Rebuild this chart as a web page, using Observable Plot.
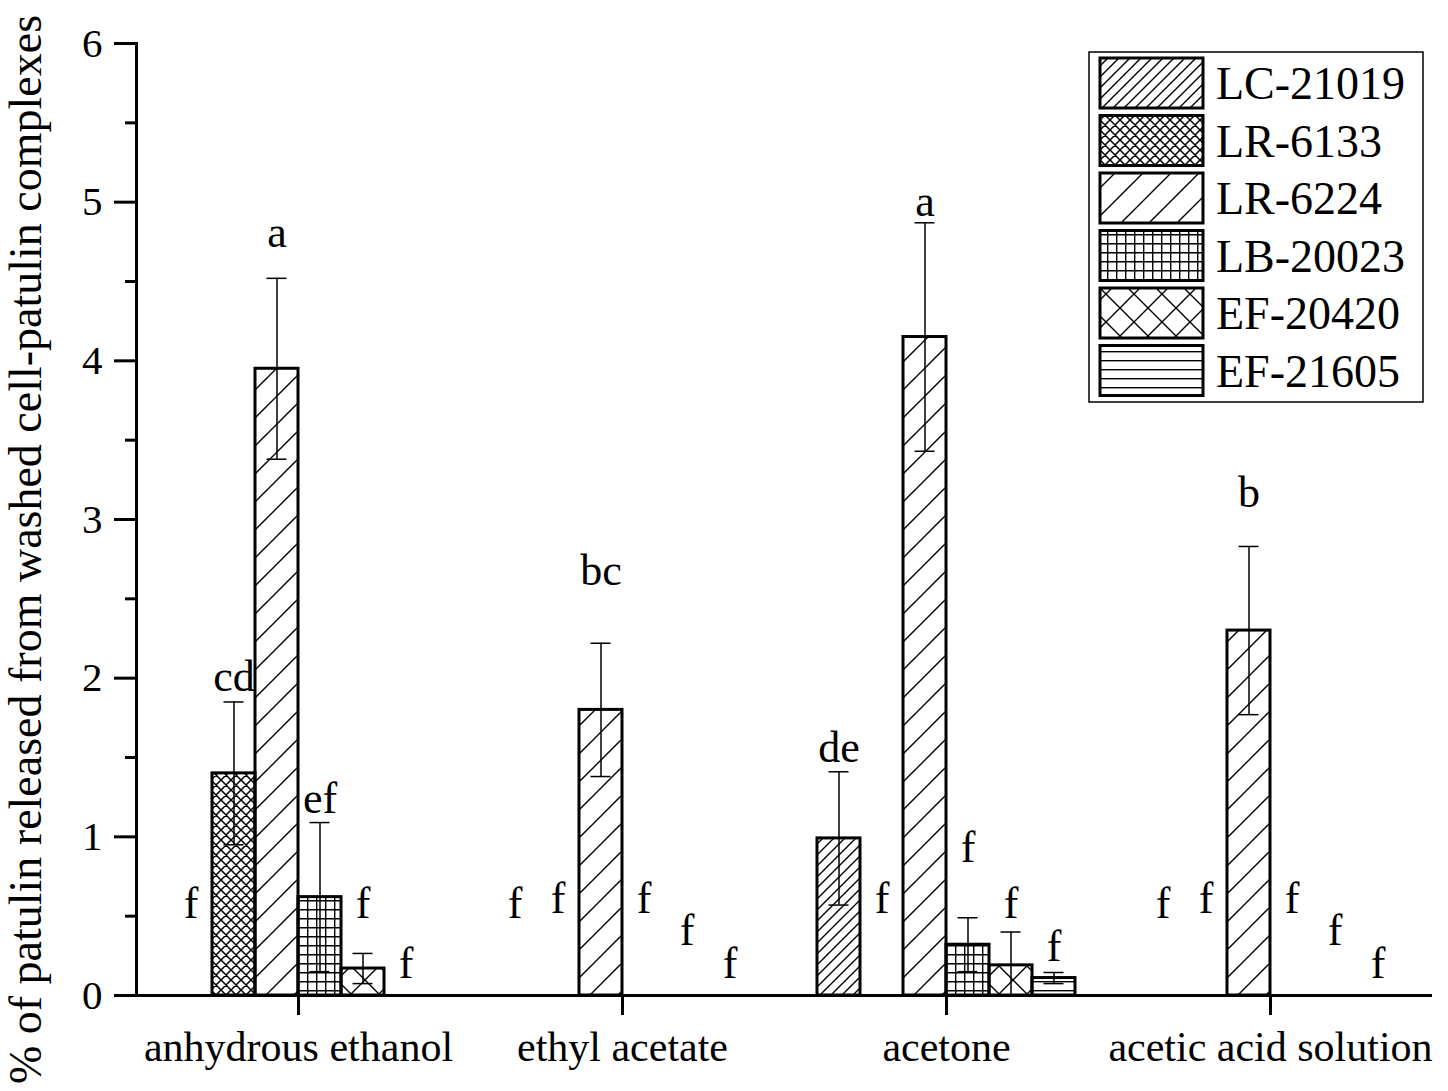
<!DOCTYPE html>
<html>
<head>
<meta charset="utf-8">
<script src="https://cdn.jsdelivr.net/npm/d3@7"></script>
<script src="https://cdn.jsdelivr.net/npm/@observablehq/plot@0.6"></script>
<style>
  html, body { margin: 0; padding: 0; background: white; }
  #wrap { position: relative; width: 1448px; height: 1091px; }
  #legend { position: absolute; left: 0; top: 0; }
</style>
</head>
<body>
<svg id="defs" width="0" height="0" style="position:absolute">
  <defs>
    <pattern id="pat-0" patternUnits="userSpaceOnUse" width="11" height="11">
      <path d="M0,11 L11,0 M-2,2 L2,-2 M9,13 L13,9" stroke="black" stroke-width="1.4"/>
    </pattern>
    <pattern id="pat-1" patternUnits="userSpaceOnUse" width="10" height="10">
      <path d="M0,0 L10,10 M0,10 L10,0 M-1,1 L1,-1 M9,11 L11,9 M-1,9 L1,11 M9,-1 L11,1" stroke="black" stroke-width="1.5"/>
    </pattern>
    <pattern id="pat-2" patternUnits="userSpaceOnUse" width="28" height="28">
      <path d="M0,28 L28,0 M-2,2 L2,-2 M26,30 L30,26" stroke="black" stroke-width="1.4"/>
    </pattern>
    <pattern id="pat-3" patternUnits="userSpaceOnUse" width="9" height="9">
      <path d="M0.7,0 L0.7,9 M0,0.7 L9,0.7" stroke="black" stroke-width="1.4"/>
    </pattern>
    <pattern id="pat-4" patternUnits="userSpaceOnUse" width="28" height="28">
      <path d="M0,0 L28,28 M0,28 L28,0 M-2,2 L2,-2 M26,30 L30,26 M-2,26 L2,30 M26,-2 L30,2" stroke="black" stroke-width="1.4"/>
    </pattern>
    <pattern id="pat-5" patternUnits="userSpaceOnUse" width="9" height="9">
      <path d="M0,0.7 L9,0.7" stroke="black" stroke-width="1.4"/>
    </pattern>
  </defs>
</svg>
<div id="wrap"></div>
<script>
// ---------- data ----------
const categories = ["anhydrous ethanol", "ethyl acetate", "acetone", "acetic acid solution"];
const strains = ["LC-21019", "LR-6133", "LR-6224", "LB-20023", "EF-20420", "EF-21605"];

// mean values per strain, in category order
const meanLC21019 = [0, 0, 0.99, 0];
const meanLR6133  = [1.40, 0, 0, 0];
const meanLR6224  = [3.95, 1.80, 4.15, 2.30];
const meanLB20023 = [0.62, 0, 0.32, 0];
const meanEF20420 = [0.17, 0, 0.19, 0];
const meanEF21605 = [0, 0, 0.11, 0];

// standard deviations
const sdLC21019 = [0, 0, 0.42, 0];
const sdLR6133  = [0.45, 0, 0, 0];
const sdLR6224  = [0.57, 0.42, 0.72, 0.53];
const sdLB20023 = [0.47, 0, 0.17, 0];
const sdEF20420 = [0.095, 0, 0.21, 0];
const sdEF21605 = [0, 0, 0.035, 0];

// significance letters
const letLC21019 = ["f", "f", "de", "f"];
const letLR6133  = ["cd", "f", "f", "f"];
const letLR6224  = ["a", "bc", "a", "b"];
const letLB20023 = ["ef", "f", "f", "f"];
const letEF20420 = ["f", "f", "f", "f"];
const letEF21605 = ["f", "f", "f", "f"];

// letter baseline heights (in % units)
const posLC21019 = [0.49, 0.49, 1.47, 0.49];
const posLR6133  = [1.92, 0.52, 0.52, 0.52];
const posLR6224  = [4.72, 2.59, 4.91, 3.08];
const posLB20023 = [1.15, 0.52, 0.84, 0.52];
const posEF20420 = [0.49, 0.32, 0.49, 0.32];
const posEF21605 = [0.11, 0.11, 0.22, 0.11];

const yTicks = [0, 1, 2, 3, 4, 5, 6];
const yMinorTicks = [0.5, 1.5, 2.5, 3.5, 4.5, 5.5];
const yLabel = "% of patulin released from washed cell-patulin complexes";

// ---------- table ----------
const means = [meanLC21019, meanLR6133, meanLR6224, meanLB20023, meanEF20420, meanEF21605];
const sds = [sdLC21019, sdLR6133, sdLR6224, sdLB20023, sdEF20420, sdEF21605];
const lets = [letLC21019, letLR6133, letLR6224, letLB20023, letEF20420, letEF21605];
const poss = [posLC21019, posLR6133, posLR6224, posLB20023, posEF20420, posEF21605];

const rows = [];
strains.forEach((s, i) => {
  categories.forEach((c, j) => {
    rows.push({strain: s, si: i, cat: c, mean: means[i][j], sd: sds[i][j], letter: lets[i][j], ly: poss[i][j]});
  });
});

const font = "'Liberation Serif', 'Times New Roman', Times, serif";

const barMarks = strains.map((s, i) =>
  Plot.barY(rows.filter(d => d.strain === s && d.mean > 0), {
    fx: "cat", x: "strain", y: "mean",
    fill: `url(#pat-${i})`, stroke: "black", strokeWidth: 3
  })
);

const errRows = rows.filter(d => d.sd > 0);

const chart = Plot.plot({
  width: 1448,
  height: 1091,
  marginLeft: 135,
  marginRight: 16,
  marginTop: 43,
  marginBottom: 96,
  style: {fontFamily: font, fontSize: "41px", color: "black", background: "white"},
  fx: {domain: categories, padding: 0, label: null},
  x: {domain: strains, paddingInner: 0, paddingOuter: 0.74, axis: null},
  y: {domain: [0, 6], axis: null},
  marks: [
    ...barMarks,
    Plot.ruleX(errRows, {fx: "cat", x: "strain", y1: d => Math.max(0, d.mean - d.sd), y2: d => d.mean + d.sd, stroke: "black", strokeWidth: 1.5}),
    Plot.tickY(errRows, {fx: "cat", x: "strain", y: d => d.mean + d.sd, stroke: "black", strokeWidth: 1.5, insetLeft: 11.5, insetRight: 11.5}),
    Plot.tickY(errRows, {fx: "cat", x: "strain", y: d => Math.max(0, d.mean - d.sd), stroke: "black", strokeWidth: 1.5, insetLeft: 11.5, insetRight: 11.5}),
    Plot.text(rows, {fx: "cat", x: "strain", y: "ly", text: "letter", lineAnchor: "bottom", fontSize: 44, fill: "black"}),
    Plot.ruleY([0], {stroke: "black", strokeWidth: 3}),
    Plot.frame({anchor: "left", facetAnchor: "left", stroke: "black", strokeWidth: 3}),
    Plot.axisY(yTicks, {tickSize: 22, tickPadding: 12, fontSize: 41, strokeWidth: 3, label: null, tickFormat: d => String(d)}),
    Plot.axisY(yMinorTicks, {tickSize: 11, strokeWidth: 3, label: null, tickFormat: () => ""}),
    Plot.axisFx({anchor: "bottom", tickSize: 20, tickPadding: 16, fontSize: 42, strokeWidth: 3, label: null}),
    Plot.text([yLabel], {text: d => d, frameAnchor: "left", facetAnchor: "left", textAnchor: "middle", rotate: -90, dx: -110, dy: 30, fontSize: 46, fill: "black"})
  ]
});

const wrap = document.getElementById("wrap");
wrap.appendChild(chart);

// ---------- legend (overlay) ----------
const L = d3.select(wrap).append("svg")
  .attr("id", "legend")
  .attr("width", 1448).attr("height", 420)
  .style("pointer-events", "none");

L.append("rect")
  .attr("x", 1089).attr("y", 52).attr("width", 334).attr("height", 350)
  .attr("fill", "white").attr("stroke", "black").attr("stroke-width", 1.5);

const rowPitch = 57.5;
strains.forEach((s, i) => {
  const top = 58 + i * rowPitch;
  L.append("rect")
    .attr("x", 1100).attr("y", top).attr("width", 103).attr("height", 50)
    .attr("fill", `url(#pat-${i})`).attr("stroke", "black").attr("stroke-width", 3);
  L.append("text")
    .attr("x", 1216).attr("y", top + 25).attr("dy", "0.35em")
    .attr("font-family", font).attr("font-size", 46).attr("fill", "black")
    .text(s);
});
</script>
</body>
</html>
